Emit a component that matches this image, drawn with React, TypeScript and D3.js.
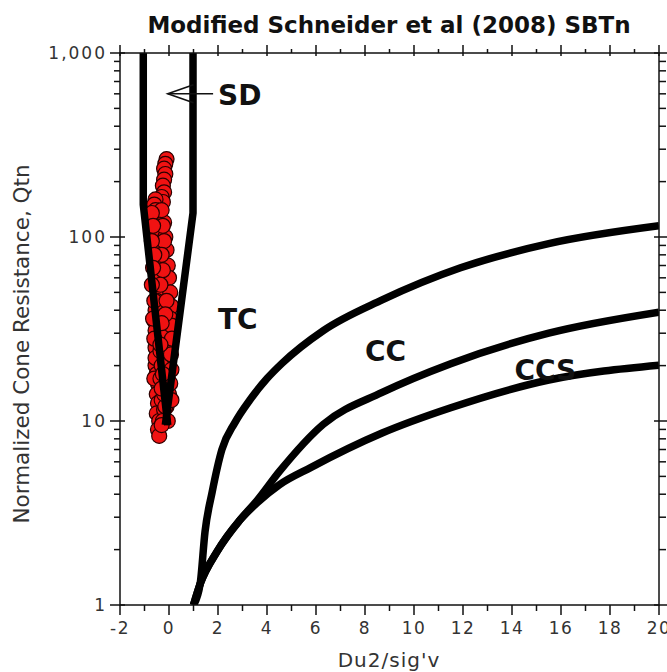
import React from "react";
import * as d3 from "d3";

const W = 667;
const H = 672;

// x tick values / y tick values
const xTicks = d3.range(-2, 21, 1);
const yMajor = [1, 10, 100, 1000];
const yMinor = [1, 10, 100].flatMap((d) => [2, 3, 4, 5, 6, 7, 8, 9].map((m) => d * m));

// Boundary lines [Du2/sig'v, Qtn]
const sdLeft: [number, number][] = [[-1.05, 1000], [-1.05, 150], [-0.05, 9.5]];
const sdRight: [number, number][] = [[0.98, 1000], [0.98, 135], [-0.15, 9.5]];
const tcLine: [number, number][] = [
  [1.0, 1.0], [1.27, 1.3], [1.47, 2.5], [1.76, 4.1], [2.16, 7.0], [2.69, 9.8],
  [3.3, 13], [4.0, 17], [4.6, 20.5], [6.3, 31], [8.7, 45.5], [11.9, 68], [15.5, 92], [20, 115],
];
const ccLine: [number, number][] = [
  [1.0, 1.0], [1.27, 1.3], [1.96, 1.95], [2.9, 2.9], [3.6, 3.7], [4.5, 5.3],
  [6.3, 9.6], [8.7, 14.3], [11.5, 20.5], [15.5, 30], [20, 39],
];
const ccsLine: [number, number][] = [
  [1.0, 1.0], [1.27, 1.3], [1.96, 1.95], [2.9, 2.9], [3.6, 3.6], [4.5, 4.5],
  [5.8, 5.6], [8.7, 8.6], [11.5, 11.8], [15.5, 16.7], [20, 20.1],
];

// CPT data points [Du2/sig'v, Qtn]
const pointsX = [
  -0.1, -0.15, -0.2, -0.15, -0.2, -0.25, -0.2, -0.3, -0.25,
  -0.55, -0.6, -0.55, -0.5, -0.6, -0.55, -0.5, -0.45, -0.5, -0.4, -0.45, -0.35, -0.4, -0.3, -0.35,
  -0.2, -0.15, -0.1, -0.05, 0.0, 0.05, 0.1, 0.05, 0.0, 0.05, 0.0, -0.05, 0.0, -0.1, -0.05,
  -0.5, -0.55, -0.6, -0.55, -0.5, -0.55, -0.5, -0.55, -0.5, -0.45, -0.5, -0.45, -0.5, -0.4, -0.45, -0.4,
  -0.3, -0.25, -0.2, -0.3, -0.25, -0.35, -0.3, -0.2,
  -0.7, -0.65, -0.7, -0.6, -0.65, -0.7, -0.6, -0.65, -0.6, -0.55, -0.6,
  -0.35, -0.3, -0.35, -0.25, -0.3, -0.2, -0.25, -0.15, -0.2, -0.3,
  0.1, 0.12, 0.08, 0.1, 0.05, 0.1, -0.1, -0.15, -0.3, -0.35, -0.25, -0.3,
];
const pointsQ = [
  265, 250, 235, 220, 205, 190, 175, 165, 155,
  160, 150, 140, 130, 120, 110, 100, 92, 85, 78, 70, 64, 58, 52, 47,
  120, 100, 85, 70, 60, 50, 42, 36, 30, 25, 20, 17, 14, 12, 10,
  45, 40, 35, 31, 28, 25, 22, 20, 18, 16, 14, 12.5, 11, 10, 9, 8.3,
  140, 115, 95, 80, 66, 55, 40, 30,
  135, 115, 95, 80, 68, 55, 45, 36, 28, 22, 17,
  24, 20, 17, 15, 13, 11.5, 10, 12, 14, 9.5,
  33, 28, 23, 19, 16, 13, 45, 38, 34, 26, 18, 15,
];

const x = d3.scaleLinear().domain([-2, 20]).range([120, 659]);
const y = d3.scaleLog().domain([1, 1000]).range([605, 53]);
const line = d3
  .line<[number, number]>()
  .x((d) => x(d[0]))
  .y((d) => y(d[1]));
const smooth = d3
  .line<[number, number]>()
  .x((d) => x(d[0]))
  .y((d) => y(d[1]))
  .curve(d3.curveMonotoneX);

const tickFont = "DejaVu Sans, Verdana, sans-serif";

export default function App() {
  const left = x(-2);
  const right = x(20);
  const top = y(1000);
  const bottom = y(1);
  return (
    <svg
      width={W}
      height={H}
      style={{ position: "absolute", left: 0, top: 0, background: "#fff" }}
      fontFamily={tickFont}
    >
      <defs>
        <clipPath id="plot">
          <rect x={left} y={top} width={right - left} height={bottom - top} />
        </clipPath>
      </defs>
      <text x={389} y={33} textAnchor="middle" fontWeight="bold" fontSize={23} fill="#111">
        Modified Schneider et al (2008) SBTn
      </text>

      {/* data points */}
      <g clipPath="url(#plot)">
        {pointsX.map((px, i) => (
          <circle
            key={i}
            cx={x(px)}
            cy={y(pointsQ[i])}
            r={7.5}
            fill="#f01212"
            stroke="#2a0000"
            strokeWidth={1.2}
          />
        ))}
      </g>

      {/* boundary lines */}
      <g clipPath="url(#plot)" fill="none" stroke="#000" strokeWidth={7.5} strokeLinejoin="round">
        {[sdLeft, sdRight].map((l, i) => (
          <path key={"sd" + i} d={line(l) || ""} />
        ))}
        {[tcLine, ccLine, ccsLine].map((l, i) => (
          <path key={"c" + i} d={smooth(l) || ""} />
        ))}
      </g>

      {/* frame */}
      <rect x={left} y={top} width={right - left} height={bottom - top} fill="none" stroke="#111" strokeWidth={1.5} />

      {/* bottom & top ticks */}
      {xTicks.map((t) => {
        const major = t % 2 === 0;
        return (
          <g key={"x" + t}>
            <line x1={x(t)} x2={x(t)} y1={bottom} y2={bottom + (major ? 10 : 6)} stroke="#111" strokeWidth={1.5} />
            <line x1={x(t)} x2={x(t)} y1={top + (major ? 3 : 0)} y2={top - (major ? 8 : 4)} stroke="#111" strokeWidth={1.5} />
            {major && (
              <text x={x(t)} y={634} textAnchor="middle" fontSize={17} fill="#333" letterSpacing={1.5}>
                {t}
              </text>
            )}
          </g>
        );
      })}

      {/* left & right ticks */}
      {yMajor.map((t) => (
        <g key={"y" + t}>
          <line x1={left - 10} x2={left + 5} y1={y(t)} y2={y(t)} stroke="#111" strokeWidth={1.5} />
          <line x1={right - 5} x2={right + 10} y1={y(t)} y2={y(t)} stroke="#111" strokeWidth={1.5} />
          <text x={left - 13} y={y(t) + 6} textAnchor="end" fontSize={17} fill="#333" letterSpacing={2}>
            {d3.format(",")(t)}
          </text>
        </g>
      ))}
      {yMinor.map((t) => (
        <g key={"ym" + t}>
          <line x1={left - 6} x2={left} y1={y(t)} y2={y(t)} stroke="#111" strokeWidth={1.5} />
          <line x1={right} x2={right + 7} y1={y(t)} y2={y(t)} stroke="#111" strokeWidth={1.5} />
        </g>
      ))}

      {/* axis titles */}
      <text x={389} y={667} textAnchor="middle" fontSize={20} fill="#333" letterSpacing={1}>
        Du2/sig'v
      </text>
      <text
        transform={`translate(29,${(top + bottom) / 2 + 15}) rotate(-90)`}
        textAnchor="middle"
        fontSize={21.5}
        fill="#333"
      >
        Normalized Cone Resistance, Qtn
      </text>

      {/* zone labels */}
      <g fontWeight="bold" fontSize={28} fill="#111">
        <text x={x(2.0)} y={y(600) + 11}>SD</text>
        <text x={x(2.0)} y={y(33) + 3}>TC</text>
        <text x={x(8.0)} y={y(22) + 3}>CC</text>
        <text x={x(14.1)} y={y(17) + 1}>CCS</text>
      </g>
      {/* SD arrow */}
      <g stroke="#111" strokeWidth={1.6} fill="none">
        <line x1={x(-0.05)} x2={x(1.8)} y1={y(600)} y2={y(600)} />
        <polyline points={`${x(1.0)},${y(600) - 9} ${x(-0.05)},${y(600)} ${x(1.0)},${y(600) + 9}`} />
      </g>
    </svg>
  );
}
